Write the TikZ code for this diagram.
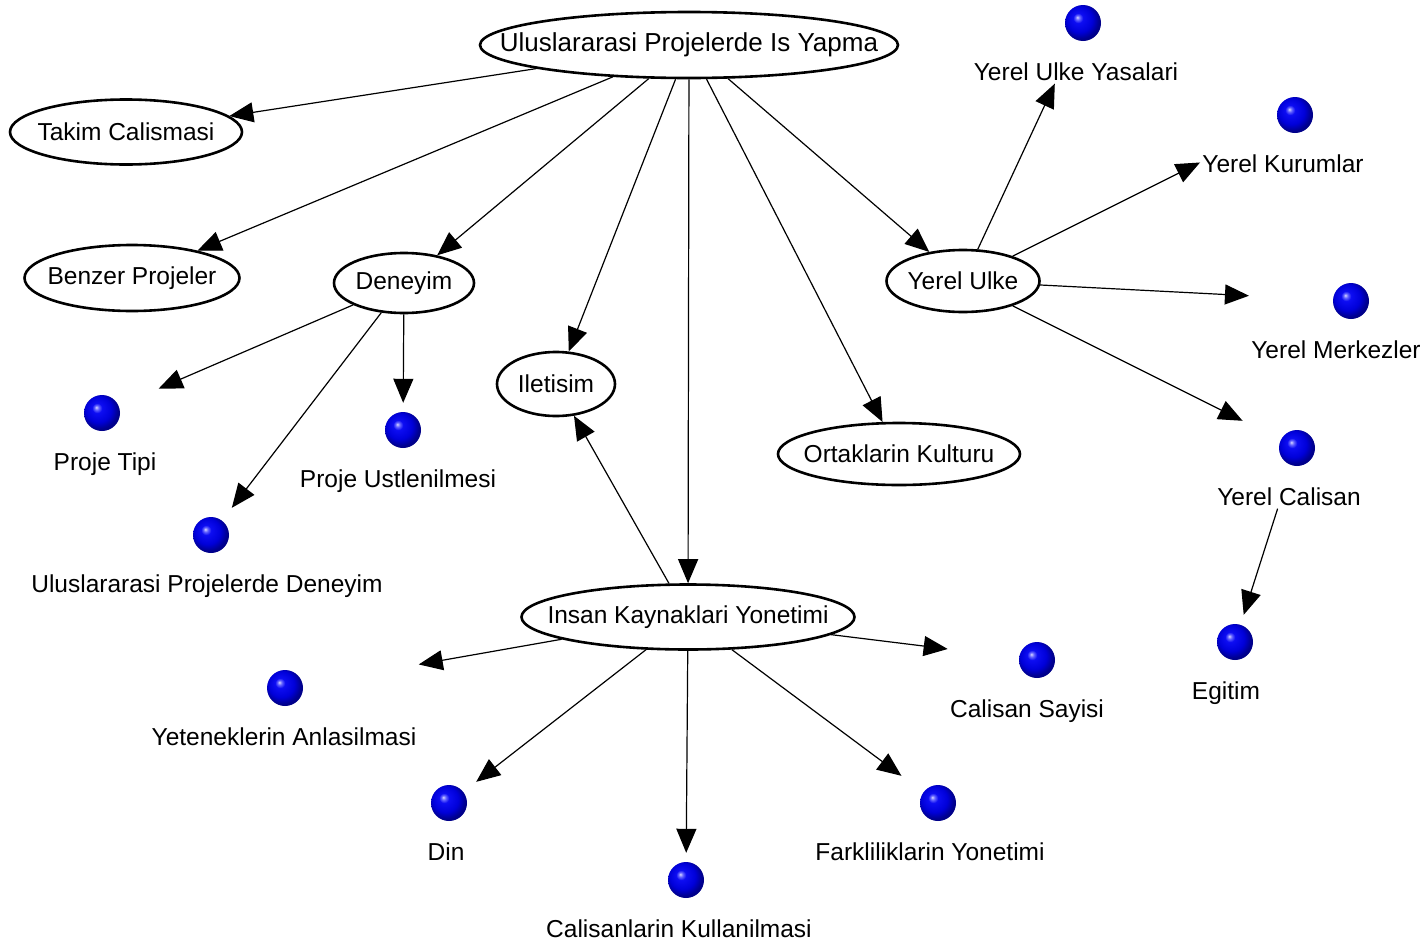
\documentclass[tikz,border=0pt]{standalone}
\usepackage{fontspec}
\setmainfont{Liberation Sans}
\usetikzlibrary{shapes.geometric,arrows.meta,fit,intersections}

% glossy blue sphere used for the leaf topics
\pgfdeclareradialshading{blueball}{\pgfpoint{-8bp}{8bp}}{%
  rgb(0bp)=(0.85,0.85,1); rgb(3bp)=(0.4,0.4,1); rgb(7bp)=(0.05,0.05,0.95);
  rgb(18bp)=(0,0,0.85); rgb(26bp)=(0,0,0.55); rgb(50bp)=(0,0,0.4)}

\newcommand\diagfont{\fontsize{24.5pt}{29pt}\selectfont}
\newcommand\rootfont{\fontsize{26pt}{31pt}\selectfont}
% zero-width text so the ellipse size is set by minimum width/height only
\newcommand\ztext[1]{\makebox[0pt]{#1}}

% leaf topic: ball with its caption below, wrapped in one box node
\newcommand\leaf[5]{%
  \node[ball] (#1-b) at (#2,#3) {};
  \node[balltext] (#1-t) at (#4,#3+57) {#5};
  \node[leafbox, fit=(#1-b.north)(#1-b.south)(#1-b.east)(#1-b.west)(#1-t)] (#1) {};
  \path[name path=#1-rect] (#1.south west) rectangle (#1.north east);
}
% arrow from a topic to a leaf, aimed at the leaf's ball
\newcommand\toleaf[2]{%
  \path[name path=aim] (#1.center) -- (#2-b.center);
  \path[name intersections={of=aim and #2-rect, by=#2-tip}];
  \draw[edge] (#1) -- (#2-tip);
}
% arrow from one leaf to another
\newcommand\leafleaf[2]{%
  \path[name path=aim] (#1-b.center) -- (#2-b.center);
  \path[name intersections={of=aim and #1-rect, by=#1-out}];
  \path[name intersections={of=aim and #2-rect, by=#2-tip}];
  \draw[edge] (#1-out) -- (#2-tip);
}

\begin{document}
\begin{tikzpicture}[x=1pt,y=-1pt,
  topic/.style={ellipse, draw, line width=2.6pt, inner sep=0pt, font=\diagfont},
  ball/.style={circle, minimum size=36pt, inner sep=0pt, outer sep=9pt, shade, shading=blueball},
  balltext/.style={anchor=base, inner xsep=2pt, inner ysep=3pt, font=\diagfont},
  leafbox/.style={inner sep=0pt},
  edge/.style={line width=1.2pt, -{Triangle[length=24pt,width=20pt]}}
]
\useasboundingbox (0,0) rectangle (1427,948);
\fill[white] (0,0) rectangle (1427,948);

% main topics
\node[topic, font=\rootfont, minimum width=418pt, minimum height=66pt] (root) at (689,45) {\ztext{Uluslararasi Projelerde Is Yapma}};
\node[topic, minimum width=232pt, minimum height=65pt] (takim) at (126,132) {\ztext{Takim Calismasi}};
\node[topic, minimum width=215pt, minimum height=66pt] (benzer) at (132,278) {\ztext{Benzer Projeler}};
\node[topic, minimum width=140pt, minimum height=60pt] (deneyim) at (404,283) {\ztext{Deneyim}};
\node[topic, minimum width=118pt, minimum height=64pt] (iletisim) at (556,384) {\ztext{Iletisim}};
\node[topic, minimum width=153pt, minimum height=62pt] (yerel) at (963,281) {\ztext{Yerel Ulke}};
\node[topic, minimum width=242pt, minimum height=62pt] (ortak) at (899,454) {\ztext{Ortaklarin Kulturu}};
\node[topic, minimum width=333pt, minimum height=65pt] (insan) at (688,617) {\ztext{Insan Kaynaklari Yonetimi}};

% leaf topics
\leaf{tipi}{102}{413}{105}{Proje Tipi}
\leaf{ustl}{403}{430}{398}{Proje Ustlenilmesi}
\leaf{upd}{211}{535}{207}{Uluslararasi Projelerde Deneyim}
\leaf{yasa}{1083}{23}{1076}{Yerel Ulke Yasalari}
\leaf{kurum}{1295}{115}{1283}{Yerel Kurumlar}
\leaf{merkez}{1351}{301}{1336}{Yerel Merkezler}
\leaf{calisan}{1297}{448}{1289}{Yerel Calisan}
\leaf{egitim}{1235}{642}{1226}{Egitim}
\leaf{sayi}{1037}{660}{1027}{Calisan Sayisi}
\leaf{fark}{938}{803}{930}{Farkliliklarin Yonetimi}
\leaf{kullan}{686}{880}{679}{Calisanlarin Kullanilmasi}
\leaf{din}{449}{803}{446}{Din}
\leaf{yetenek}{285}{688}{284}{Yeteneklerin Anlasilmasi}

% connectors
\draw[edge] (root) -- (takim);
\draw[edge] (root) -- (benzer);
\draw[edge] (root) -- (deneyim);
\draw[edge] (root) -- (iletisim);
\draw[edge] (root) -- (insan);
\draw[edge] (root) -- (ortak);
\draw[edge] (root) -- (yerel);
\draw[edge] (insan) -- (iletisim);

\toleaf{deneyim}{tipi}
\toleaf{deneyim}{ustl}
\toleaf{deneyim}{upd}
\toleaf{yerel}{yasa}
\toleaf{yerel}{kurum}
\toleaf{yerel}{merkez}
\toleaf{yerel}{calisan}
\leafleaf{calisan}{egitim}
\toleaf{insan}{yetenek}
\toleaf{insan}{din}
\toleaf{insan}{kullan}
\toleaf{insan}{fark}
\toleaf{insan}{sayi}
\end{tikzpicture}
\end{document}
